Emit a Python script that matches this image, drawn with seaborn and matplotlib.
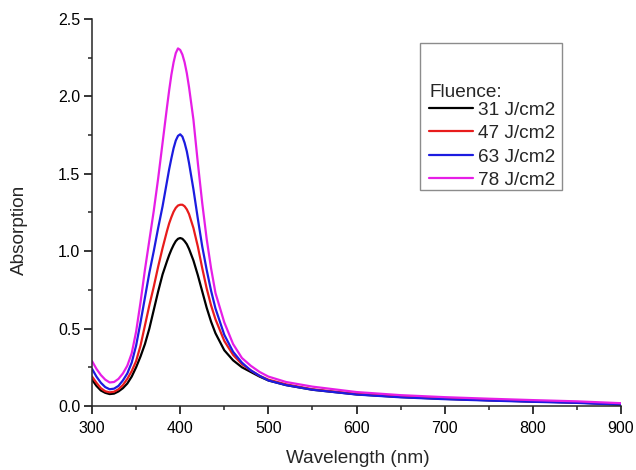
import pandas as pd
import matplotlib.pyplot as plt
import seaborn as sns
from matplotlib.patches import Rectangle

# ==========================
# DATA
# ==========================

wavelength = [300, 305, 310, 315, 320, 325, 330, 335, 340, 345, 350, 355, 360,
              365, 370, 375, 380, 385, 387.5, 390, 392.5, 395, 397.5, 400,
              402.5, 405, 407.5, 410, 415, 420, 425, 430, 435, 440, 450, 460,
              470, 480, 490, 500, 520, 550, 600, 650, 700, 750, 800, 850, 900]

abs_31 = [0.17, 0.13, 0.10, 0.085, 0.077, 0.08, 0.094, 0.115, 0.145, 0.19,
          0.25, 0.32, 0.40, 0.50, 0.62, 0.74, 0.85, 0.935,
          0.975, 1.01, 1.04, 1.065, 1.08, 1.085, 1.08, 1.065, 1.045, 1.015,
          0.94, 0.845, 0.74, 0.635, 0.545, 0.47,
          0.36, 0.295, 0.25, 0.22, 0.19, 0.165,
          0.135, 0.105, 0.075, 0.058, 0.046, 0.037, 0.029, 0.022, 0.01]

abs_47 = [0.19, 0.15, 0.115, 0.095, 0.088, 0.092, 0.108, 0.135, 0.175, 0.225,
          0.29, 0.39, 0.52, 0.65, 0.77, 0.90, 1.02, 1.13,
          1.18, 1.22, 1.255, 1.28, 1.295, 1.30, 1.30, 1.29, 1.27, 1.24,
          1.15, 1.03, 0.89, 0.76, 0.65, 0.56,
          0.42, 0.33, 0.27, 0.23, 0.195, 0.17,
          0.14, 0.108, 0.078, 0.06, 0.048, 0.038, 0.03, 0.023, 0.012]

abs_63 = [0.24, 0.19, 0.15, 0.122, 0.108, 0.112, 0.13, 0.165, 0.21, 0.28,
          0.39, 0.54, 0.70, 0.86, 1.00, 1.15, 1.29, 1.45,
          1.53, 1.60, 1.665, 1.715, 1.745, 1.755, 1.74, 1.70, 1.645, 1.57,
          1.40, 1.21, 1.03, 0.88, 0.745, 0.63,
          0.46, 0.35, 0.28, 0.23, 0.195, 0.165,
          0.135, 0.105, 0.074, 0.056, 0.044, 0.035, 0.027, 0.02, 0.008]

abs_78 = [0.29, 0.24, 0.20, 0.17, 0.152, 0.155, 0.175, 0.21, 0.26, 0.34,
          0.48, 0.67, 0.88, 1.07, 1.26, 1.47, 1.70, 1.93,
          2.04, 2.14, 2.22, 2.28, 2.31, 2.30, 2.27, 2.22, 2.15, 2.06,
          1.85, 1.57, 1.31, 1.08, 0.89, 0.73,
          0.54, 0.40, 0.31, 0.26, 0.22, 0.19,
          0.155, 0.125, 0.09, 0.07, 0.057, 0.047, 0.038, 0.03, 0.018]

fluence_labels = ["31 J/cm2", "47 J/cm2", "63 J/cm2", "78 J/cm2"]
line_colors = ["#000000", "#e81c1c", "#1c1ce0", "#e61ee6"]

frames = []
for label, values in zip(fluence_labels, [abs_31, abs_47, abs_63, abs_78]):
    frames.append(pd.DataFrame({"Wavelength": wavelength,
                                "Absorption": values,
                                "Fluence": label}))
df = pd.concat(frames, ignore_index=True)

# ==========================
# PLOT
# ==========================

sns.set_style("ticks")
plt.rcParams["font.family"] = ["Liberation Sans", "DejaVu Sans"]

fig = plt.figure(figsize=(6.36, 4.70), dpi=100)
ax = fig.add_axes([0.1447, 0.1362, 0.8318, 0.8234])

sns.lineplot(data=df, x="Wavelength", y="Absorption", hue="Fluence",
             palette=line_colors, linewidth=1.6, estimator=None, ax=ax)

ax.set_xlim(300, 900)
ax.set_ylim(0, 2.5)
ax.set_xticks([300, 400, 500, 600, 700, 800, 900])
ax.set_xticks([350, 450, 550, 650, 750, 850], minor=True)
ax.set_yticks([0.0, 0.5, 1.0, 1.5, 2.0, 2.5])
ax.set_yticks([0.25, 0.75, 1.25, 1.75, 2.25], minor=True)
ax.set_yticklabels(["0.0", "0.5", "1.0", "1.5", "2.0", "2.5"])

sns.despine(ax=ax)
for side in ["left", "bottom"]:
    ax.spines[side].set_linewidth(1.1)
ax.tick_params(which="major", length=5.5, width=1.1, labelsize=11.5, pad=3,
               colors="black")
ax.tick_params(axis="x", which="major", pad=5)
ax.tick_params(which="minor", length=3, width=1.1)

ax.set_xlabel("Wavelength (nm)", fontsize=13.7)
ax.set_ylabel("Absorption", fontsize=13.7)
ax.xaxis.set_label_coords(0.502, -0.113)
ax.yaxis.set_label_coords(-0.121, 0.455)

# legend box (Origin style, with empty space above the title)
ax.add_patch(Rectangle((0.620, 0.558), 0.2685, 0.380, transform=ax.transAxes,
                       facecolor="white", edgecolor="#8c8c8c", linewidth=1.0,
                       zorder=4.5))

handles, labels = ax.get_legend_handles_labels()
leg = ax.legend(handles, labels, title="Fluence:", loc="upper left",
                bbox_to_anchor=(0.637, 0.831), borderaxespad=0,
                alignment="left", frameon=False, fontsize=13.7,
                title_fontsize=13.7, handlelength=2.3, handletextpad=0.28,
                labelspacing=0.32, borderpad=0)
leg._legend_box.sep = 0.0

fig.savefig("out.png", dpi=100)
